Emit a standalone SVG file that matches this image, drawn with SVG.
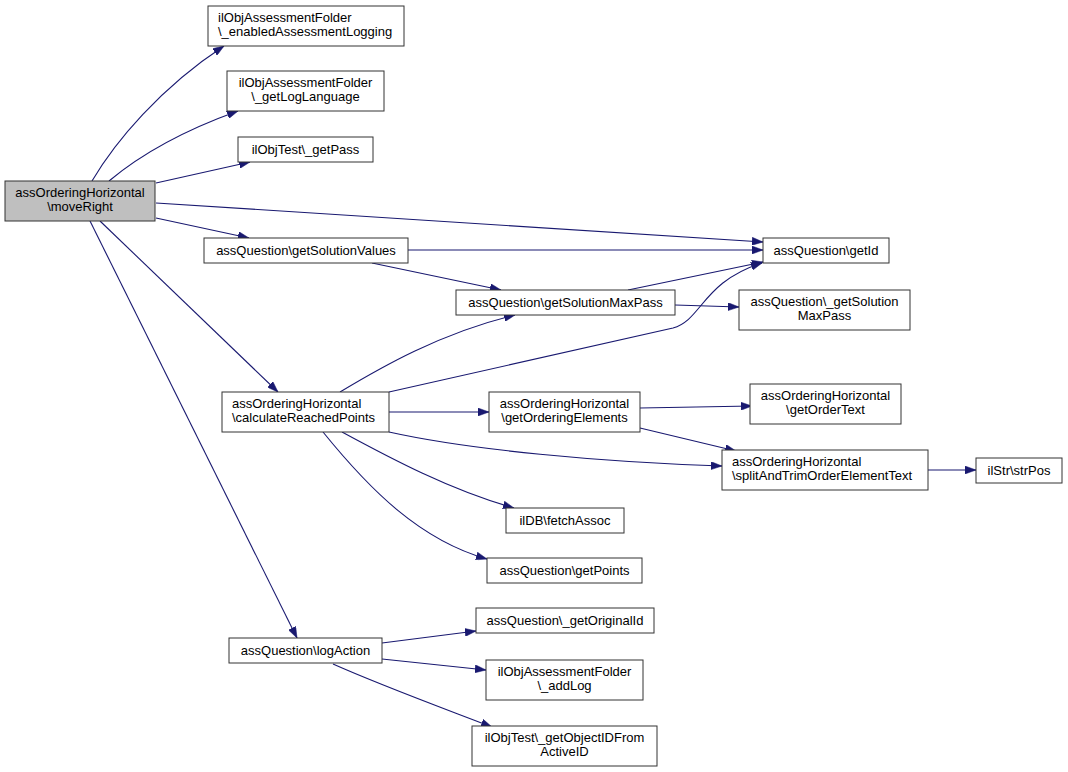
<svg xmlns="http://www.w3.org/2000/svg" width="1068" height="772" viewBox="0 0 1068 772">
<style>
.n rect{fill:#fff;stroke:#333;stroke-width:1}
.n text{font-family:"Liberation Sans",Arial,sans-serif;font-size:13px;fill:#000;text-anchor:middle}
.n text.l{text-anchor:start}
#moveRight rect{fill:#bfbfbf}
.e path{fill:none;stroke:#191970;stroke-width:1.1;marker-end:url(#ah)}
</style>
<defs>
<marker id="ah" markerUnits="userSpaceOnUse" markerWidth="11" markerHeight="8" refX="11" refY="4" orient="auto">
<path d="M0,0 L11,4 L0,8 z" fill="#191970" stroke="#191970" stroke-width="0.5"/>
</marker>
</defs>
<rect width="1068" height="772" fill="#fff"/>
<g id="connectors" class="e">
<path d="M92,181 C115,142 160,88 224,46"/>
<path d="M109,181 C140,155 185,130 238,111"/>
<path d="M156,183 L250,162"/>
<path d="M156,203 L763,242"/>
<path d="M156,218 L249,238"/>
<path d="M100,221 L278,392"/>
<path d="M90,221 L297,638"/>
<path d="M408,250 L763,250"/>
<path d="M372,263 L501,290"/>
<path d="M628,290 L763,262"/>
<path d="M675,305 L739,307"/>
<path d="M340,392 C380,368 440,333 515,315"/>
<path d="M389,392 L673,328 C702,320 702,282 762,263"/>
<path d="M389,412 L489,412"/>
<path d="M640,408 L752,406"/>
<path d="M640,428 L736,451"/>
<path d="M389,432 C470,450 600,462 722,466"/>
<path d="M928,470 L976,470"/>
<path d="M342,432 C390,458 450,490 514,508"/>
<path d="M323,432 C370,490 420,540 487,559"/>
<path d="M382,643 L476,631"/>
<path d="M382,659 L486,670"/>
<path d="M333,664 C380,685 440,707 492,727"/>
</g>
<g id="moveRight" class="n"><rect x="5" y="181" width="150" height="40"/><text x="80" y="197">assOrderingHorizontal</text><text x="80" y="211">\moveRight</text></g>
<g id="enabledAssessmentLogging" class="n"><rect x="208" y="6" width="196" height="40"/><text class="l" x="218" y="22">ilObjAssessmentFolder</text><text class="l" x="218" y="36">\_enabledAssessmentLogging</text></g>
<g id="getLogLanguage" class="n"><rect x="227" y="71" width="157" height="40"/><text x="305.5" y="87">ilObjAssessmentFolder</text><text x="305.5" y="101">\_getLogLanguage</text></g>
<g id="getPass" class="n"><rect x="238" y="137" width="135" height="25"/><text x="305.5" y="154">ilObjTest\_getPass</text></g>
<g id="getSolutionValues" class="n"><rect x="204" y="238" width="204" height="25"/><text x="306" y="255">assQuestion\getSolutionValues</text></g>
<g id="getId" class="n"><rect x="763" y="238" width="126" height="25"/><text x="826" y="255">assQuestion\getId</text></g>
<g id="getSolutionMaxPass" class="n"><rect x="456" y="290" width="219" height="25"/><text x="565.5" y="307">assQuestion\getSolutionMaxPass</text></g>
<g id="_getSolutionMaxPass" class="n"><rect x="739" y="290" width="171" height="40"/><text x="824.5" y="306">assQuestion\_getSolution</text><text x="824.5" y="320">MaxPass</text></g>
<g id="calculateReachedPoints" class="n"><rect x="222" y="392" width="167" height="40"/><text class="l" x="232" y="408">assOrderingHorizontal</text><text class="l" x="232" y="422">\calculateReachedPoints</text></g>
<g id="getOrderingElements" class="n"><rect x="489" y="392" width="151" height="40"/><text x="564.5" y="408">assOrderingHorizontal</text><text x="564.5" y="422">\getOrderingElements</text></g>
<g id="getOrderText" class="n"><rect x="750" y="384" width="151" height="40"/><text x="825.5" y="400">assOrderingHorizontal</text><text x="825.5" y="414">\getOrderText</text></g>
<g id="splitAndTrimOrderElementText" class="n"><rect x="722" y="450" width="206" height="40"/><text class="l" x="732" y="466">assOrderingHorizontal</text><text class="l" x="732" y="480">\splitAndTrimOrderElementText</text></g>
<g id="strPos" class="n"><rect x="976" y="458" width="86" height="25"/><text x="1019" y="475">ilStr\strPos</text></g>
<g id="fetchAssoc" class="n"><rect x="506" y="508" width="118" height="25"/><text x="565" y="525">ilDB\fetchAssoc</text></g>
<g id="getPoints" class="n"><rect x="487" y="558" width="155" height="25"/><text x="564.5" y="575">assQuestion\getPoints</text></g>
<g id="_getOriginalId" class="n"><rect x="476" y="608" width="178" height="25"/><text x="565" y="625">assQuestion\_getOriginalId</text></g>
<g id="logAction" class="n"><rect x="229" y="638" width="153" height="25"/><text x="305.5" y="655">assQuestion\logAction</text></g>
<g id="_addLog" class="n"><rect x="486" y="660" width="157" height="40"/><text x="564.5" y="676">ilObjAssessmentFolder</text><text x="564.5" y="690">\_addLog</text></g>
<g id="getObjectIDFromActiveID" class="n"><rect x="472" y="726" width="185" height="40"/><text x="564.5" y="742">ilObjTest\_getObjectIDFrom</text><text x="564.5" y="756">ActiveID</text></g>
</svg>
